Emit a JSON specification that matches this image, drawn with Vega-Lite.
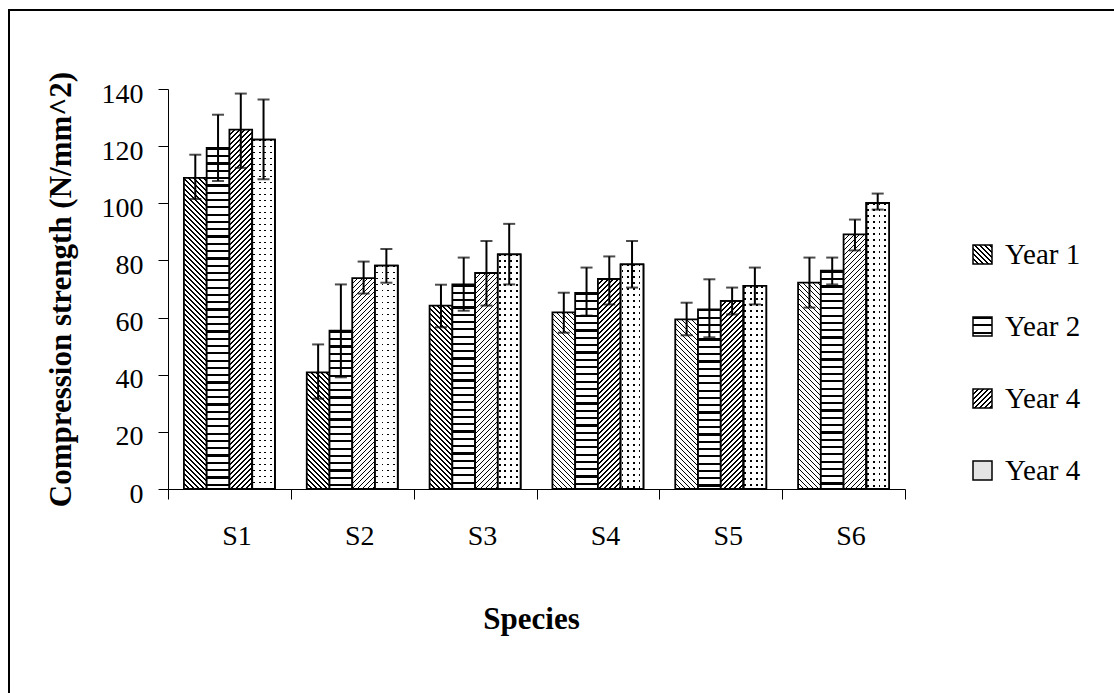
{
"$schema": "https://vega.github.io/schema/vega-lite/v6.json",
"width": 1105,
"height": 683,
"autosize": {"type": "none"},
"padding": {"left": 9, "top": 10, "right": 0, "bottom": 0},
"background": "#ffffff",
"config": {
  "font": "Liberation Serif",
  "view": {"stroke": "#000", "strokeWidth": 2, "strokeDash": [1105, 1788, 683]}
},
"params": [{"name": "hatch", "value": [
{"offset":0,"color":"#000"},{"offset":0.00375,"color":"#000"},{"offset":0.00375,"color":"#fff"},{"offset":0.0125,"color":"#fff"},
{"offset":0.0125,"color":"#000"},{"offset":0.01625,"color":"#000"},{"offset":0.01625,"color":"#fff"},{"offset":0.025,"color":"#fff"},
{"offset":0.025,"color":"#000"},{"offset":0.02875,"color":"#000"},{"offset":0.02875,"color":"#fff"},{"offset":0.0375,"color":"#fff"},
{"offset":0.0375,"color":"#000"},{"offset":0.04125,"color":"#000"},{"offset":0.04125,"color":"#fff"},{"offset":0.05,"color":"#fff"},
{"offset":0.05,"color":"#000"},{"offset":0.05375,"color":"#000"},{"offset":0.05375,"color":"#fff"},{"offset":0.0625,"color":"#fff"},
{"offset":0.0625,"color":"#000"},{"offset":0.06625,"color":"#000"},{"offset":0.06625,"color":"#fff"},{"offset":0.075,"color":"#fff"},
{"offset":0.075,"color":"#000"},{"offset":0.07875,"color":"#000"},{"offset":0.07875,"color":"#fff"},{"offset":0.0875,"color":"#fff"},
{"offset":0.0875,"color":"#000"},{"offset":0.09125,"color":"#000"},{"offset":0.09125,"color":"#fff"},{"offset":0.1,"color":"#fff"},
{"offset":0.1,"color":"#000"},{"offset":0.10375,"color":"#000"},{"offset":0.10375,"color":"#fff"},{"offset":0.1125,"color":"#fff"},
{"offset":0.1125,"color":"#000"},{"offset":0.11625,"color":"#000"},{"offset":0.11625,"color":"#fff"},{"offset":0.125,"color":"#fff"},
{"offset":0.125,"color":"#000"},{"offset":0.12875,"color":"#000"},{"offset":0.12875,"color":"#fff"},{"offset":0.1375,"color":"#fff"},
{"offset":0.1375,"color":"#000"},{"offset":0.14125,"color":"#000"},{"offset":0.14125,"color":"#fff"},{"offset":0.15,"color":"#fff"},
{"offset":0.15,"color":"#000"},{"offset":0.15375,"color":"#000"},{"offset":0.15375,"color":"#fff"},{"offset":0.1625,"color":"#fff"},
{"offset":0.1625,"color":"#000"},{"offset":0.16625,"color":"#000"},{"offset":0.16625,"color":"#fff"},{"offset":0.175,"color":"#fff"},
{"offset":0.175,"color":"#000"},{"offset":0.17875,"color":"#000"},{"offset":0.17875,"color":"#fff"},{"offset":0.1875,"color":"#fff"},
{"offset":0.1875,"color":"#000"},{"offset":0.19125,"color":"#000"},{"offset":0.19125,"color":"#fff"},{"offset":0.2,"color":"#fff"},
{"offset":0.2,"color":"#000"},{"offset":0.20375,"color":"#000"},{"offset":0.20375,"color":"#fff"},{"offset":0.2125,"color":"#fff"},
{"offset":0.2125,"color":"#000"},{"offset":0.21625,"color":"#000"},{"offset":0.21625,"color":"#fff"},{"offset":0.225,"color":"#fff"},
{"offset":0.225,"color":"#000"},{"offset":0.22875,"color":"#000"},{"offset":0.22875,"color":"#fff"},{"offset":0.2375,"color":"#fff"},
{"offset":0.2375,"color":"#000"},{"offset":0.24125,"color":"#000"},{"offset":0.24125,"color":"#fff"},{"offset":0.25,"color":"#fff"},
{"offset":0.25,"color":"#000"},{"offset":0.25375,"color":"#000"},{"offset":0.25375,"color":"#fff"},{"offset":0.2625,"color":"#fff"},
{"offset":0.2625,"color":"#000"},{"offset":0.26625,"color":"#000"},{"offset":0.26625,"color":"#fff"},{"offset":0.275,"color":"#fff"},
{"offset":0.275,"color":"#000"},{"offset":0.27875,"color":"#000"},{"offset":0.27875,"color":"#fff"},{"offset":0.2875,"color":"#fff"},
{"offset":0.2875,"color":"#000"},{"offset":0.29125,"color":"#000"},{"offset":0.29125,"color":"#fff"},{"offset":0.3,"color":"#fff"},
{"offset":0.3,"color":"#000"},{"offset":0.30375,"color":"#000"},{"offset":0.30375,"color":"#fff"},{"offset":0.3125,"color":"#fff"},
{"offset":0.3125,"color":"#000"},{"offset":0.31625,"color":"#000"},{"offset":0.31625,"color":"#fff"},{"offset":0.325,"color":"#fff"},
{"offset":0.325,"color":"#000"},{"offset":0.32875,"color":"#000"},{"offset":0.32875,"color":"#fff"},{"offset":0.3375,"color":"#fff"},
{"offset":0.3375,"color":"#000"},{"offset":0.34125,"color":"#000"},{"offset":0.34125,"color":"#fff"},{"offset":0.35,"color":"#fff"},
{"offset":0.35,"color":"#000"},{"offset":0.35375,"color":"#000"},{"offset":0.35375,"color":"#fff"},{"offset":0.3625,"color":"#fff"},
{"offset":0.3625,"color":"#000"},{"offset":0.36625,"color":"#000"},{"offset":0.36625,"color":"#fff"},{"offset":0.375,"color":"#fff"},
{"offset":0.375,"color":"#000"},{"offset":0.37875,"color":"#000"},{"offset":0.37875,"color":"#fff"},{"offset":0.3875,"color":"#fff"},
{"offset":0.3875,"color":"#000"},{"offset":0.39125,"color":"#000"},{"offset":0.39125,"color":"#fff"},{"offset":0.4,"color":"#fff"},
{"offset":0.4,"color":"#000"},{"offset":0.40375,"color":"#000"},{"offset":0.40375,"color":"#fff"},{"offset":0.4125,"color":"#fff"},
{"offset":0.4125,"color":"#000"},{"offset":0.41625,"color":"#000"},{"offset":0.41625,"color":"#fff"},{"offset":0.425,"color":"#fff"},
{"offset":0.425,"color":"#000"},{"offset":0.42875,"color":"#000"},{"offset":0.42875,"color":"#fff"},{"offset":0.4375,"color":"#fff"},
{"offset":0.4375,"color":"#000"},{"offset":0.44125,"color":"#000"},{"offset":0.44125,"color":"#fff"},{"offset":0.45,"color":"#fff"},
{"offset":0.45,"color":"#000"},{"offset":0.45375,"color":"#000"},{"offset":0.45375,"color":"#fff"},{"offset":0.4625,"color":"#fff"},
{"offset":0.4625,"color":"#000"},{"offset":0.46625,"color":"#000"},{"offset":0.46625,"color":"#fff"},{"offset":0.475,"color":"#fff"},
{"offset":0.475,"color":"#000"},{"offset":0.47875,"color":"#000"},{"offset":0.47875,"color":"#fff"},{"offset":0.4875,"color":"#fff"},
{"offset":0.4875,"color":"#000"},{"offset":0.49125,"color":"#000"},{"offset":0.49125,"color":"#fff"},{"offset":0.5,"color":"#fff"},
{"offset":0.5,"color":"#000"},{"offset":0.50375,"color":"#000"},{"offset":0.50375,"color":"#fff"},{"offset":0.5125,"color":"#fff"},
{"offset":0.5125,"color":"#000"},{"offset":0.51625,"color":"#000"},{"offset":0.51625,"color":"#fff"},{"offset":0.525,"color":"#fff"},
{"offset":0.525,"color":"#000"},{"offset":0.52875,"color":"#000"},{"offset":0.52875,"color":"#fff"},{"offset":0.5375,"color":"#fff"},
{"offset":0.5375,"color":"#000"},{"offset":0.54125,"color":"#000"},{"offset":0.54125,"color":"#fff"},{"offset":0.55,"color":"#fff"},
{"offset":0.55,"color":"#000"},{"offset":0.55375,"color":"#000"},{"offset":0.55375,"color":"#fff"},{"offset":0.5625,"color":"#fff"},
{"offset":0.5625,"color":"#000"},{"offset":0.56625,"color":"#000"},{"offset":0.56625,"color":"#fff"},{"offset":0.575,"color":"#fff"},
{"offset":0.575,"color":"#000"},{"offset":0.57875,"color":"#000"},{"offset":0.57875,"color":"#fff"},{"offset":0.5875,"color":"#fff"},
{"offset":0.5875,"color":"#000"},{"offset":0.59125,"color":"#000"},{"offset":0.59125,"color":"#fff"},{"offset":0.6,"color":"#fff"},
{"offset":0.6,"color":"#000"},{"offset":0.60375,"color":"#000"},{"offset":0.60375,"color":"#fff"},{"offset":0.6125,"color":"#fff"},
{"offset":0.6125,"color":"#000"},{"offset":0.61625,"color":"#000"},{"offset":0.61625,"color":"#fff"},{"offset":0.625,"color":"#fff"},
{"offset":0.625,"color":"#000"},{"offset":0.62875,"color":"#000"},{"offset":0.62875,"color":"#fff"},{"offset":0.6375,"color":"#fff"},
{"offset":0.6375,"color":"#000"},{"offset":0.64125,"color":"#000"},{"offset":0.64125,"color":"#fff"},{"offset":0.65,"color":"#fff"},
{"offset":0.65,"color":"#000"},{"offset":0.65375,"color":"#000"},{"offset":0.65375,"color":"#fff"},{"offset":0.6625,"color":"#fff"},
{"offset":0.6625,"color":"#000"},{"offset":0.66625,"color":"#000"},{"offset":0.66625,"color":"#fff"},{"offset":0.675,"color":"#fff"},
{"offset":0.675,"color":"#000"},{"offset":0.67875,"color":"#000"},{"offset":0.67875,"color":"#fff"},{"offset":0.6875,"color":"#fff"},
{"offset":0.6875,"color":"#000"},{"offset":0.69125,"color":"#000"},{"offset":0.69125,"color":"#fff"},{"offset":0.7,"color":"#fff"},
{"offset":0.7,"color":"#000"},{"offset":0.70375,"color":"#000"},{"offset":0.70375,"color":"#fff"},{"offset":0.7125,"color":"#fff"},
{"offset":0.7125,"color":"#000"},{"offset":0.71625,"color":"#000"},{"offset":0.71625,"color":"#fff"},{"offset":0.725,"color":"#fff"},
{"offset":0.725,"color":"#000"},{"offset":0.72875,"color":"#000"},{"offset":0.72875,"color":"#fff"},{"offset":0.7375,"color":"#fff"},
{"offset":0.7375,"color":"#000"},{"offset":0.74125,"color":"#000"},{"offset":0.74125,"color":"#fff"},{"offset":0.75,"color":"#fff"},
{"offset":0.75,"color":"#000"},{"offset":0.75375,"color":"#000"},{"offset":0.75375,"color":"#fff"},{"offset":0.7625,"color":"#fff"},
{"offset":0.7625,"color":"#000"},{"offset":0.76625,"color":"#000"},{"offset":0.76625,"color":"#fff"},{"offset":0.775,"color":"#fff"},
{"offset":0.775,"color":"#000"},{"offset":0.77875,"color":"#000"},{"offset":0.77875,"color":"#fff"},{"offset":0.7875,"color":"#fff"},
{"offset":0.7875,"color":"#000"},{"offset":0.79125,"color":"#000"},{"offset":0.79125,"color":"#fff"},{"offset":0.8,"color":"#fff"},
{"offset":0.8,"color":"#000"},{"offset":0.80375,"color":"#000"},{"offset":0.80375,"color":"#fff"},{"offset":0.8125,"color":"#fff"},
{"offset":0.8125,"color":"#000"},{"offset":0.81625,"color":"#000"},{"offset":0.81625,"color":"#fff"},{"offset":0.825,"color":"#fff"},
{"offset":0.825,"color":"#000"},{"offset":0.82875,"color":"#000"},{"offset":0.82875,"color":"#fff"},{"offset":0.8375,"color":"#fff"},
{"offset":0.8375,"color":"#000"},{"offset":0.84125,"color":"#000"},{"offset":0.84125,"color":"#fff"},{"offset":0.85,"color":"#fff"},
{"offset":0.85,"color":"#000"},{"offset":0.85375,"color":"#000"},{"offset":0.85375,"color":"#fff"},{"offset":0.8625,"color":"#fff"},
{"offset":0.8625,"color":"#000"},{"offset":0.86625,"color":"#000"},{"offset":0.86625,"color":"#fff"},{"offset":0.875,"color":"#fff"},
{"offset":0.875,"color":"#000"},{"offset":0.87875,"color":"#000"},{"offset":0.87875,"color":"#fff"},{"offset":0.8875,"color":"#fff"},
{"offset":0.8875,"color":"#000"},{"offset":0.89125,"color":"#000"},{"offset":0.89125,"color":"#fff"},{"offset":0.9,"color":"#fff"},
{"offset":0.9,"color":"#000"},{"offset":0.90375,"color":"#000"},{"offset":0.90375,"color":"#fff"},{"offset":0.9125,"color":"#fff"},
{"offset":0.9125,"color":"#000"},{"offset":0.91625,"color":"#000"},{"offset":0.91625,"color":"#fff"},{"offset":0.925,"color":"#fff"},
{"offset":0.925,"color":"#000"},{"offset":0.92875,"color":"#000"},{"offset":0.92875,"color":"#fff"},{"offset":0.9375,"color":"#fff"},
{"offset":0.9375,"color":"#000"},{"offset":0.94125,"color":"#000"},{"offset":0.94125,"color":"#fff"},{"offset":0.95,"color":"#fff"},
{"offset":0.95,"color":"#000"},{"offset":0.95375,"color":"#000"},{"offset":0.95375,"color":"#fff"},{"offset":0.9625,"color":"#fff"},
{"offset":0.9625,"color":"#000"},{"offset":0.96625,"color":"#000"},{"offset":0.96625,"color":"#fff"},{"offset":0.975,"color":"#fff"},
{"offset":0.975,"color":"#000"},{"offset":0.97875,"color":"#000"},{"offset":0.97875,"color":"#fff"},{"offset":0.9875,"color":"#fff"},
{"offset":0.9875,"color":"#000"},{"offset":0.99125,"color":"#000"},{"offset":0.99125,"color":"#fff"},{"offset":1,"color":"#fff"}
]}],
"data": {"values": [
{"species":"S1","series":"Year 1","value":108.9,"lo":101.5,"hi":117.0},
{"species":"S1","series":"Year 2","value":119.4,"lo":107.8,"hi":131.0},
{"species":"S1","series":"Year 4","value":125.8,"lo":112.4,"hi":138.4},
{"species":"S1","series":"Year 4b","value":122.3,"lo":108.4,"hi":136.3},
{"species":"S2","series":"Year 1","value":40.8,"lo":31.6,"hi":50.6},
{"species":"S2","series":"Year 2","value":55.4,"lo":39.1,"hi":71.6},
{"species":"S2","series":"Year 4","value":73.8,"lo":68.4,"hi":79.6},
{"species":"S2","series":"Year 4b","value":78.2,"lo":72.2,"hi":84.0},
{"species":"S3","series":"Year 1","value":64.2,"lo":56.6,"hi":71.5},
{"species":"S3","series":"Year 2","value":71.6,"lo":62.4,"hi":81.0},
{"species":"S3","series":"Year 4","value":75.6,"lo":64.2,"hi":86.8},
{"species":"S3","series":"Year 4b","value":82.1,"lo":71.6,"hi":92.8},
{"species":"S4","series":"Year 1","value":61.8,"lo":54.7,"hi":68.7},
{"species":"S4","series":"Year 2","value":68.6,"lo":60.7,"hi":77.5},
{"species":"S4","series":"Year 4","value":73.5,"lo":64.6,"hi":81.4},
{"species":"S4","series":"Year 4b","value":78.6,"lo":70.5,"hi":86.8},
{"species":"S5","series":"Year 1","value":59.4,"lo":53.8,"hi":65.2},
{"species":"S5","series":"Year 2","value":62.9,"lo":53.1,"hi":73.4},
{"species":"S5","series":"Year 4","value":65.8,"lo":61.1,"hi":70.5},
{"species":"S5","series":"Year 4b","value":71.1,"lo":64.6,"hi":77.5},
{"species":"S6","series":"Year 1","value":72.2,"lo":63.5,"hi":81.0},
{"species":"S6","series":"Year 2","value":76.4,"lo":71.6,"hi":81.0},
{"species":"S6","series":"Year 4","value":89.1,"lo":83.5,"hi":94.3},
{"species":"S6","series":"Year 4b","value":100.1,"lo":97.8,"hi":103.4}
]},
"encoding": {
  "x": {"field": "species", "type": "nominal", "title": "Species",
    "scale": {"range": [159, 896], "paddingInner": 0, "paddingOuter": 0},
    "axis": {"labelAngle": 0, "offset": -204, "tickBand": "extent", "tickSize": 10, "tickColor": "#000", "tickWidth": 1,
      "domainColor": "#000", "domainWidth": 1, "labelFont": "Liberation Serif", "labelFontSize": 28, "labelColor": "#000",
      "labelPadding": 23, "labelOffset": 7, "titleFont": "Liberation Serif", "titleFontSize": 31, "titleFontWeight": "bold",
      "titleColor": "#000", "titleX": 522, "titleY": 139, "titleBaseline": "alphabetic"}},
  "xOffset": {"field": "series", "type": "nominal",
    "scale": {"domain": ["Year 1", "Year 2", "Year 4", "Year 4b"], "paddingInner": 0, "paddingOuter": 0.7}}
},
"layer": [
  {
    "mark": {"type": "bar", "strokeWidth": 1.8,
      "fill": {"expr": "datum.series ? (datum.series==='Year 1' ? {gradient:'linear',x1:0,y1:1,x2:400*bandwidth('xOffset')/(pow(bandwidth('xOffset'),2)+pow(scale('y',0)-scale('y',datum.value),2)),y2:1-400*(scale('y',0)-scale('y',datum.value))/(pow(bandwidth('xOffset'),2)+pow(scale('y',0)-scale('y',datum.value),2)),stops:hatch} : datum.series==='Year 2' ? {gradient:'linear',x1:0,y1:0,x2:0,y2:584/(scale('y',0)-scale('y',datum.value)),stops:hatch} : datum.series==='Year 4' ? {gradient:'linear',x1:0,y1:0,x2:400*bandwidth('xOffset')/(pow(bandwidth('xOffset'),2)+pow(scale('y',0)-scale('y',datum.value),2)),y2:400*(scale('y',0)-scale('y',datum.value))/(pow(bandwidth('xOffset'),2)+pow(scale('y',0)-scale('y',datum.value),2)),stops:hatch} : {gradient:'linear',x1:0,y1:0,x2:0,y2:480/(scale('y',0)-scale('y',datum.value)),stops:hatch}) : (datum.value==='Year 1' ? {gradient:'linear',x1:0,y1:1,x2:10.5,y2:-9.5,stops:hatch} : datum.value==='Year 2' ? {gradient:'linear',x1:0,y1:0,x2:0,y2:30.7,stops:hatch} : datum.value==='Year 4' ? {gradient:'linear',x1:0,y1:0,x2:10.5,y2:10.5,stops:hatch} : '#e4e4e4')"}},
    "encoding": {
      "y": {"field": "value", "type": "quantitative", "stack": null, "title": "Compression strength (N/mm^2)",
        "scale": {"domain": [0, 140], "range": [479, 79], "nice": false, "zero": true},
        "axis": {"values": [0, 20, 40, 60, 80, 100, 120, 140], "grid": false, "offset": -159, "tickSize": 10, "tickColor": "#000", "tickWidth": 1,
          "domainColor": "#000", "domainWidth": 1, "labelFont": "Liberation Serif", "labelFontSize": 28, "labelColor": "#000",
          "labelPadding": 15, "labelOffset": 5, "titleFont": "Liberation Serif", "titleFontSize": 31, "titleFontWeight": "bold",
          "titleColor": "#000", "titleX": -98, "titleBaseline": "alphabetic"}},
      "stroke": {"field": "series", "type": "nominal",
        "scale": {"domain": ["Year 1", "Year 2", "Year 4", "Year 4b"], "range": ["#000", "#000", "#000", "#000"]},
        "legend": {"title": null, "orient": "none", "legendX": 959, "legendY": 230, "padding": 0,
          "symbolType": "square", "symbolSize": 361, "symbolStrokeWidth": 1.5, "symbolStrokeColor": "#000",
          "labelFont": "Liberation Serif", "labelFontSize": 29, "labelColor": "#000", "labelOffset": 8, "labelLimit": 300,
          "rowPadding": 42,
          "labelExpr": "datum.label === 'Year 4b' ? 'Year 4' : datum.label"}}
    }
  },
  {
    "transform": [{"filter": "datum.series === 'Year 4b'"}],
    "mark": {"type": "bar", "stroke": "#000", "strokeWidth": 1.8,
      "fill": {"gradient": "linear", "x1": 0, "y1": 0, "x2": 1, "y2": 0, "stops": [
        {"offset": 0, "color": "#fff"}, {"offset": 0.04, "color": "#fff"}, {"offset": 0.04, "color": "rgba(255,255,255,0)"}, {"offset": 0.12, "color": "rgba(255,255,255,0)"},
        {"offset": 0.12, "color": "#fff"}, {"offset": 0.29, "color": "#fff"}, {"offset": 0.29, "color": "rgba(255,255,255,0)"}, {"offset": 0.37, "color": "rgba(255,255,255,0)"},
        {"offset": 0.37, "color": "#fff"}, {"offset": 0.54, "color": "#fff"}, {"offset": 0.54, "color": "rgba(255,255,255,0)"}, {"offset": 0.62, "color": "rgba(255,255,255,0)"},
        {"offset": 0.62, "color": "#fff"}, {"offset": 0.79, "color": "#fff"}, {"offset": 0.79, "color": "rgba(255,255,255,0)"}, {"offset": 0.87, "color": "rgba(255,255,255,0)"},
        {"offset": 0.87, "color": "#fff"}, {"offset": 1, "color": "#fff"}]}},
    "encoding": {
      "y": {"field": "value", "type": "quantitative", "stack": null, "title": "Compression strength (N/mm^2)"}
    }
  },
  {
    "mark": {"type": "rule", "color": "#000", "strokeWidth": 2},
    "encoding": {
      "y": {"field": "lo", "type": "quantitative", "title": "Compression strength (N/mm^2)"},
      "y2": {"field": "hi"}
    }
  },
  {
    "mark": {"type": "tick", "color": "#000", "thickness": 2},
    "encoding": {
      "y": {"field": "hi", "type": "quantitative", "title": "Compression strength (N/mm^2)"},
      "size": {"value": 12}
    }
  },
  {
    "mark": {"type": "tick", "color": "#000", "thickness": 2},
    "encoding": {
      "y": {"field": "lo", "type": "quantitative", "title": "Compression strength (N/mm^2)"},
      "size": {"value": 12}
    }
  }
]
}
